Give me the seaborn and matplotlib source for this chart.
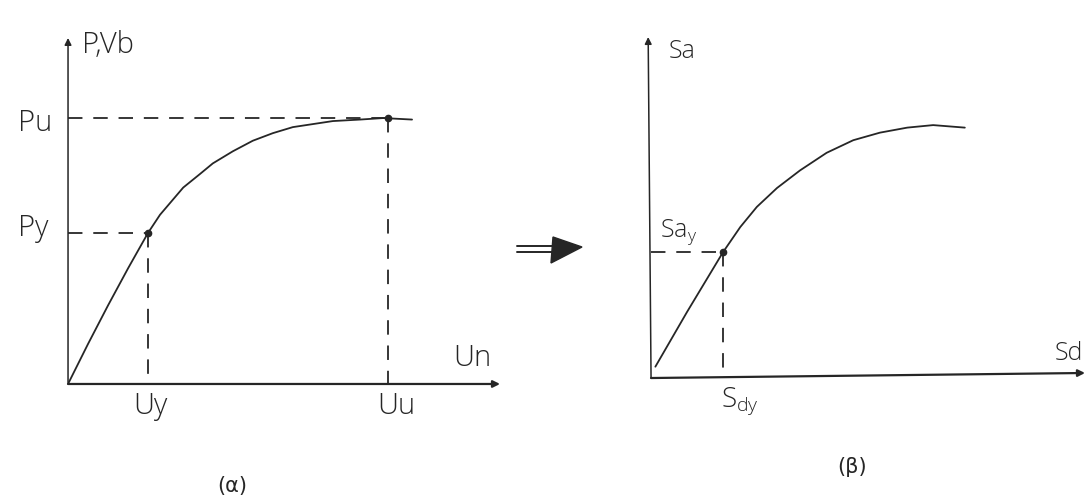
import numpy as np
import pandas as pd
import seaborn as sns
import matplotlib.pyplot as plt
from matplotlib.patches import Polygon

# Force / displacement capacity curve (units: Uy = 1, Py = 1)
u_disp = [0.0, 0.25, 0.50, 0.75, 1.0, 1.15, 1.44, 1.65, 1.81, 2.06, 2.31,
          2.56, 2.81, 3.06, 3.31, 3.65, 3.94, 4.30]
p_force = [0.0, 0.265, 0.52, 0.765, 1.0, 1.12, 1.30, 1.39, 1.46, 1.54, 1.61,
           1.66, 1.70, 1.72, 1.74, 1.75, 1.76, 1.75]
u_y, p_y = 1.0, 1.0
u_u, p_u = 4.0, 1.76

# Spectral acceleration / spectral displacement curve (units: Sdy = 1, Say = 1)
s_d = [0.06, 0.50, 1.0, 1.24, 1.47, 1.75, 2.07, 2.44, 2.81, 3.18, 3.56, 3.92, 4.36]
s_a = [0.09, 0.525, 1.0, 1.20, 1.36, 1.51, 1.65, 1.79, 1.89, 1.95, 1.99, 2.01, 1.99]
sd_y, sa_y = 1.0, 1.0

INK = "#262626"

sns.set_theme(style="white")
plt.rcParams["font.family"] = ["Open Sans", "DejaVu Sans"]
plt.rcParams["mathtext.fontset"] = "custom"
plt.rcParams["mathtext.rm"] = "Open Sans:light"
plt.rcParams["mathtext.it"] = "Open Sans:light"

fig = plt.figure(figsize=(10.92, 4.97), dpi=100)
fig.patch.set_facecolor("white")

ax1 = fig.add_axes([0.0623, 0.2274, 0.3956, 0.6962])
ax2 = fig.add_axes([0.5962, 0.2394, 0.3974, 0.6861])
ax1.set_xlim(0, 5.4)
ax1.set_ylim(0, 2.29)
ax2.set_xlim(0, 6.03)
ax2.set_ylim(0, 2.71)

for ax in (ax1, ax2):
    ax.set_axis_off()
    ax.patch.set_alpha(0)

dash = (0, (8, 6))
line_kw = dict(solid_joinstyle="round", solid_capstyle="round")

# ---- left panel: P,Vb - Un ----
df1 = pd.DataFrame({"u": u_disp, "p": p_force})
sns.lineplot(data=df1, x="u", y="p", ax=ax1, color=INK, lw=1.3,
             sort=False, estimator=None, **line_kw)
ax1.annotate("", xy=(0, 2.29), xytext=(0, 0),
             arrowprops=dict(arrowstyle="-|>", lw=1.1, color=INK,
                             mutation_scale=10, shrinkA=0, shrinkB=0),
             annotation_clip=False)
ax1.annotate("", xy=(5.4, 0), xytext=(0, 0),
             arrowprops=dict(arrowstyle="-|>", lw=1.6, color=INK,
                             mutation_scale=10, shrinkA=0, shrinkB=0),
             annotation_clip=False)
ax1.plot([0, u_u], [p_u, p_u], color=INK, lw=1.3, ls=dash)
ax1.plot([u_u, u_u], [p_u, 0], color=INK, lw=1.3, ls=dash)
ax1.plot([0, u_y], [p_y, p_y], color=INK, lw=1.3, ls=dash)
ax1.plot([u_y, u_y], [p_y, 0], color=INK, lw=1.3, ls=dash)
ax1.plot([u_y, u_u], [p_y, p_u], ls="none", marker="o", ms=4.5, color=INK)

fs_big = 21
kw = dict(color=INK, fontsize=fs_big, fontweight="light", clip_on=False)
ax1.text(0.17, 2.24, "P,Vb", ha="left", va="center", **kw)
ax1.text(-0.2, 1.675, "Pu", ha="right", va="baseline", **kw)
ax1.text(-0.25, 0.98, "Py", ha="right", va="baseline", **kw)
ax1.text(4.81, 0.12, "Un", ha="left", va="baseline", **kw)
ax1.text(u_y + 0.03, -0.05, "Uy", ha="center", va="top", **kw)
ax1.text(u_u + 0.1, -0.05, "Uu", ha="center", va="top", **kw)
ax1.text(2.05, -0.675, "(α)", ha="center", va="center", color=INK,
         fontsize=15, family=["DejaVu Sans"], clip_on=False)

# ---- right panel: Sa - Sd ----
df2 = pd.DataFrame({"sd": s_d, "sa": s_a})
sns.lineplot(data=df2, x="sd", y="sa", ax=ax2, color=INK, lw=1.3,
             sort=False, estimator=None, **line_kw)
ax2.annotate("", xy=(-0.04, 2.71), xytext=(0, 0),
             arrowprops=dict(arrowstyle="-|>", lw=1.1, color=INK,
                             mutation_scale=10, shrinkA=0, shrinkB=0),
             annotation_clip=False)
ax2.annotate("", xy=(6.03, 0.04), xytext=(0, 0),
             arrowprops=dict(arrowstyle="-|>", lw=1.6, color=INK,
                             mutation_scale=10, shrinkA=0, shrinkB=0),
             annotation_clip=False)
ax2.plot([0, sd_y], [sa_y, sa_y], color=INK, lw=1.3, ls=dash)
ax2.plot([sd_y, sd_y], [sa_y, 0], color=INK, lw=1.3, ls=dash)
ax2.plot([sd_y], [sa_y], ls="none", marker="o", ms=4.5, color=INK)

fs_mid = 18
kw2 = dict(color=INK, fontsize=fs_mid, fontweight="light", clip_on=False)
ax2.text(0.24, 2.54, "Sa", ha="left", va="baseline", **kw2)
ax2.text(0.125, 1.12, r"Sa$_\mathrm{y}$", ha="left", va="baseline", **kw2)
ax2.text(5.61, 0.14, "Sd", ha="left", va="baseline", **kw2)
ax2.text(1.24, -0.06, r"S$_\mathrm{dy}$", ha="center", va="top",
         color=INK, fontsize=20, fontweight="light", clip_on=False)
ax2.text(2.79, -0.71, "(β)", ha="center", va="center", color=INK,
         fontsize=15, family=["DejaVu Sans"], clip_on=False)

# ---- transformation arrow between the panels ----
W, H = 1092.0, 497.0
for yy in (246.0, 252.0):
    fig.add_artist(plt.Line2D([517 / W, 557 / W], [1 - yy / H, 1 - yy / H],
                              color=INK, lw=1.4))
head = Polygon([[553 / W, 1 - 237 / H], [582 / W, 1 - 247 / H],
                [551 / W, 1 - 263 / H]], closed=True, color=INK,
               transform=fig.transFigure)
fig.add_artist(head)

fig.savefig("out.png", dpi=100, facecolor="white")
